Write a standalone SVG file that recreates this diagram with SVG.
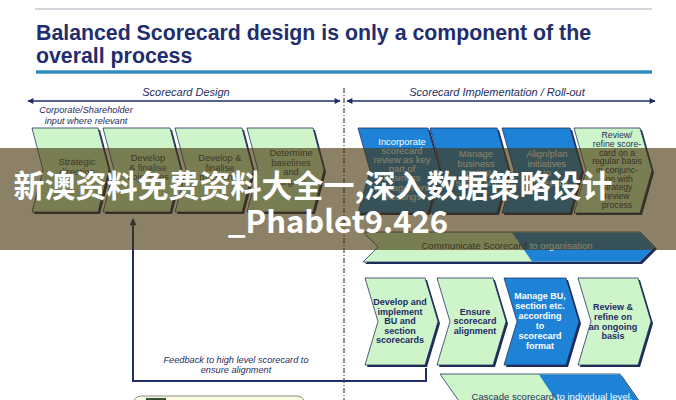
<svg xmlns="http://www.w3.org/2000/svg" width="676" height="400" viewBox="0 0 676 400">
<defs>
<style>
.title{font-family:"Liberation Sans",Arial,sans-serif;font-weight:bold;font-size:21.3px;fill:#1f2e6e}
.hdr{font-family:"Liberation Sans",Arial,sans-serif;font-style:italic;font-size:11px;fill:#1f2d5e;text-anchor:middle}
.note{font-family:"Liberation Sans",Arial,sans-serif;font-style:italic;font-size:9.2px;fill:#1f2d5e;text-anchor:middle}
.lt{font-family:"Liberation Sans",Arial,sans-serif;font-size:9.4px;fill:#34405e;text-anchor:middle}
.wt{font-family:"Liberation Sans",Arial,sans-serif;font-size:9.4px;fill:#ffffff;text-anchor:middle}
.rt{font-family:"Liberation Sans",Arial,sans-serif;font-size:8.7px;fill:#1f2d5e;text-anchor:middle}
.bt{font-family:"Liberation Sans",Arial,sans-serif;font-weight:bold;font-size:9px;fill:#1c2a66;text-anchor:middle}
.bw{font-family:"Liberation Sans",Arial,sans-serif;font-weight:bold;font-size:9px;fill:#ffffff;text-anchor:middle}
.ban{font-family:"Liberation Sans",Arial,sans-serif;font-size:9.6px;fill:#2a3556;text-anchor:middle}
.green{fill:#cdf5c9;stroke:#243366;stroke-width:0.8}
.blue{fill:#1e82d6;stroke:#243366;stroke-width:0.8}
.shadow{fill:#1e2b58}
.axis{stroke:#1f2d6b;stroke-width:1.5;fill:none}
.fb{stroke:#1f2d6b;stroke-width:2;fill:none}
.wm{font-family:"Noto Sans CJK SC","Noto Sans",sans-serif;font-weight:bold;font-size:31px;fill:#ffffff;text-anchor:middle}
</style>
<marker id="ah" viewBox="0 0 10 10" refX="9" refY="5" markerWidth="7" markerHeight="6" markerUnits="userSpaceOnUse" orient="auto-start-reverse">
<path d="M0,0 L10,5 L0,10 z" fill="#1f2d6b"/>
</marker>
<marker id="ah2" viewBox="0 0 10 10" refX="9" refY="5" markerWidth="8" markerHeight="7" markerUnits="userSpaceOnUse" orient="auto">
<path d="M0,0 L10,5 L0,10 z" fill="#1f2d6b"/>
</marker>
</defs>
<rect width="676" height="400" fill="#ffffff"/>

<g id="header">
<line x1="35" y1="9" x2="652" y2="9" stroke="#a3aeb8" stroke-width="1"/>
<text class="title" x="36" y="40">Balanced Scorecard design is only a component of the</text>
<text class="title" x="36" y="63">overall process</text>
<line x1="36" y1="72" x2="652" y2="72" stroke="#2e8cc0" stroke-width="3.5"/>
<text class="hdr" x="186" y="96">Scorecard Design</text>
<text class="hdr" x="497" y="96">Scorecard Implementation / Roll-out</text>
<text class="note" x="86" y="113">Corporate/Shareholder</text>
<text class="note" x="86" y="124">input where relevant</text>
</g>

<g id="connectors">
<line class="axis" x1="28" y1="101" x2="340" y2="101" marker-start="url(#ah)" marker-end="url(#ah)"/>
<line class="axis" x1="347" y1="101" x2="655" y2="101" marker-start="url(#ah)" marker-end="url(#ah)"/>
<line x1="344" y1="88" x2="344" y2="400" stroke="#222" stroke-width="1" stroke-dasharray="5 2 1 2"/>
<path class="fb" d="M426,368 V381 H133 V219" marker-end="url(#ah2)"/>
</g>

<g id="feedback-label">
<text class="note" x="236" y="363" font-size="9.5">Feedback to high level scorecard to</text>
<text class="note" x="236" y="373" font-size="9.5">ensure alignment</text>
</g>

<g id="design-1">
<path class="shadow" transform="translate(2,2)" d="M32,128 H98 L109,170 L98,212 H32 L43,170 Z"/>
<path class="green" d="M32,128 H98 L109,170 L98,212 H32 L43,170 Z"/>
<text class="lt" x="77" y="165">Strategic</text>
<text class="lt" x="77" y="174.5">direction</text>
</g>
<g id="design-2">
<path class="shadow" transform="translate(2,2)" d="M103,128 H170 L181,170 L170,212 H103 L114,170 Z"/>
<path class="green" d="M103,128 H170 L181,170 L170,212 H103 L114,170 Z"/>
<text class="lt" x="148" y="161">Develop</text>
<text class="lt" x="148" y="170.5">&amp; finalise</text>
<text class="lt" x="148" y="180">objectives</text>
</g>
<g id="design-3">
<path class="shadow" transform="translate(2,2)" d="M175,128 H242 L253,170 L242,212 H175 L186,170 Z"/>
<path class="green" d="M175,128 H242 L253,170 L242,212 H175 L186,170 Z"/>
<text class="lt" x="220" y="161">Develop &amp;</text>
<text class="lt" x="220" y="170.5">finalise</text>
<text class="lt" x="220" y="180">measures</text>
</g>
<g id="design-4">
<path class="shadow" transform="translate(2,2)" d="M247,128 H313 L324,170 L313,212 H247 L258,170 Z"/>
<path class="green" d="M247,128 H313 L324,170 L313,212 H247 L258,170 Z"/>
<text class="lt" x="291" y="156">Determine</text>
<text class="lt" x="291" y="165.5">baselines</text>
<text class="lt" x="291" y="175">and</text>
<text class="lt" x="291" y="184.5">targets</text>
</g>

<g id="impl-1">
<path class="shadow" transform="translate(2,2)" d="M358,128 H428 L440,170.5 L428,213 H358 L370,170.5 Z"/>
<path class="blue" d="M358,128 H428 L440,170.5 L428,213 H358 L370,170.5 Z"/>
<text class="wt" x="402" y="145">Incorporate</text>
<text class="wt" x="402" y="154">scorecard</text>
<text class="wt" x="402" y="163">review as key</text>
<text class="wt" x="402" y="172">part of</text>
<text class="wt" x="402" y="181">business</text>
<text class="wt" x="402" y="190.5">management</text>
<text class="wt" x="402" y="200">meetings</text>
</g>
<g id="impl-2">
<path class="shadow" transform="translate(2,2)" d="M430,128 H497 L509,170.5 L497,213 H430 L442,170.5 Z"/>
<path class="blue" d="M430,128 H497 L509,170.5 L497,213 H430 L442,170.5 Z"/>
<text class="wt" x="476" y="157">Manage</text>
<text class="wt" x="476" y="166.5">business</text>
<text class="wt" x="476" y="176">against</text>
<text class="wt" x="476" y="185.5">scorecard</text>
</g>
<g id="impl-3">
<path class="shadow" transform="translate(2,2)" d="M502,128 H570 L582,170.5 L570,213 H502 L514,170.5 Z"/>
<path class="blue" d="M502,128 H570 L582,170.5 L570,213 H502 L514,170.5 Z"/>
<text class="wt" x="547" y="157">Align/plan</text>
<text class="wt" x="547" y="166.5">initiatives</text>
<text class="wt" x="547" y="176">to</text>
<text class="wt" x="547" y="185.5">scorecard</text>
</g>
<g id="impl-4">
<path class="shadow" transform="translate(2,2)" d="M574,128 H640 L652,170.5 L640,213 H574 L586,170.5 Z"/>
<path class="green" d="M574,128 H640 L652,170.5 L640,213 H574 L586,170.5 Z"/>
<text class="rt" x="617" y="138">Review/</text>
<text class="rt" x="617" y="147">refine score-</text>
<text class="rt" x="617" y="155.5">card on a</text>
<text class="rt" x="617" y="164">regular basis</text>
<text class="rt" x="617" y="173">in conjunc-</text>
<text class="rt" x="617" y="181.5">tion with</text>
<text class="rt" x="617" y="190">strategy</text>
<text class="rt" x="617" y="199">review</text>
<text class="rt" x="617" y="208">process</text>
</g>

<g id="communicate">
<path class="shadow" transform="translate(2,2)" d="M363,232 H640 L655,247 L640,262 H363 L378,247 Z"/>
<path class="green" d="M363,232 H640 L655,247 L640,262 H363 L378,247 Z"/>
<path fill="#1e82d6" d="M512,232.4 H640 L654.4,247 L640,261.6 H532 Z"/>
<text class="ban" x="507" y="249">Communicate Scorecard<tspan fill="#ffffff"> to organisation</tspan></text>
</g>

<g id="rollout-1">
<path class="shadow" transform="translate(2,2)" d="M365,278 H425 L438,321.5 L425,365 H365 L378,321.5 Z"/>
<path class="green" d="M365,278 H425 L438,321.5 L425,365 H365 L378,321.5 Z"/>
<text class="bt" x="400" y="305">Develop and</text>
<text class="bt" x="400" y="314.5">implement</text>
<text class="bt" x="400" y="324">BU and</text>
<text class="bt" x="400" y="333.5">section</text>
<text class="bt" x="400" y="343">scorecards</text>
</g>
<g id="rollout-2">
<path class="shadow" transform="translate(2,2)" d="M437,278 H493 L506,321.5 L493,365 H437 L450,321.5 Z"/>
<path class="green" d="M437,278 H493 L506,321.5 L493,365 H437 L450,321.5 Z"/>
<text class="bt" x="475" y="314.5">Ensure</text>
<text class="bt" x="475" y="324">scorecard</text>
<text class="bt" x="475" y="333.5">alignment</text>
</g>
<g id="rollout-3">
<path class="shadow" transform="translate(2,2)" d="M504,278 H566 L579,321.5 L566,365 H504 L517,321.5 Z"/>
<path class="blue" d="M504,278 H566 L579,321.5 L566,365 H504 L517,321.5 Z"/>
<text class="bw" x="540" y="298.5">Manage BU,</text>
<text class="bw" x="540" y="309">section etc.</text>
<text class="bw" x="540" y="319">according</text>
<text class="bw" x="540" y="329">to</text>
<text class="bw" x="540" y="339">scorecard</text>
<text class="bw" x="540" y="348.5">format</text>
</g>
<g id="rollout-4">
<path class="shadow" transform="translate(2,2)" d="M578,278 H638 L651,321.5 L638,365 H578 L591,321.5 Z"/>
<path class="green" d="M578,278 H638 L651,321.5 L638,365 H578 L591,321.5 Z"/>
<text class="bt" x="613" y="309.5">Review &amp;</text>
<text class="bt" x="613" y="319.5">refine on</text>
<text class="bt" x="613" y="329.5">an ongoing</text>
<text class="bt" x="613" y="339">basis</text>
</g>

<g id="cascade">
<path class="shadow" transform="translate(2,2)" d="M440,374 H620 L641,404 L620,434 H440 L461,404 Z"/>
<path class="green" d="M440,374 H620 L641,404 L620,434 H440 L461,404 Z"/>
<path fill="#1e82d6" d="M539,374.4 H620 L640.5,404 L620,433.6 H578 Z"/>
<text class="ban" x="552" y="399.5">Cascade scorecard<tspan fill="#ffffff"> to individual level,</tspan></text>
</g>

<g id="legend">
<rect x="133" y="396" width="172" height="22" rx="8" fill="#fbfbe2" stroke="#8a8a80" stroke-width="1"/>
<rect x="146" y="398" width="20" height="6" fill="#2f4f3a"/>
</g>

<g id="watermark">
<rect x="0" y="148" width="676" height="102" fill="rgb(70,52,9)" fill-opacity="0.62"/>
<text class="wm" x="313" y="197">新澳资料免费资料大全一,深入数据策略设计</text>
<text class="wm" x="338" y="233">_Phablet9.426</text>
</g>
</svg>
